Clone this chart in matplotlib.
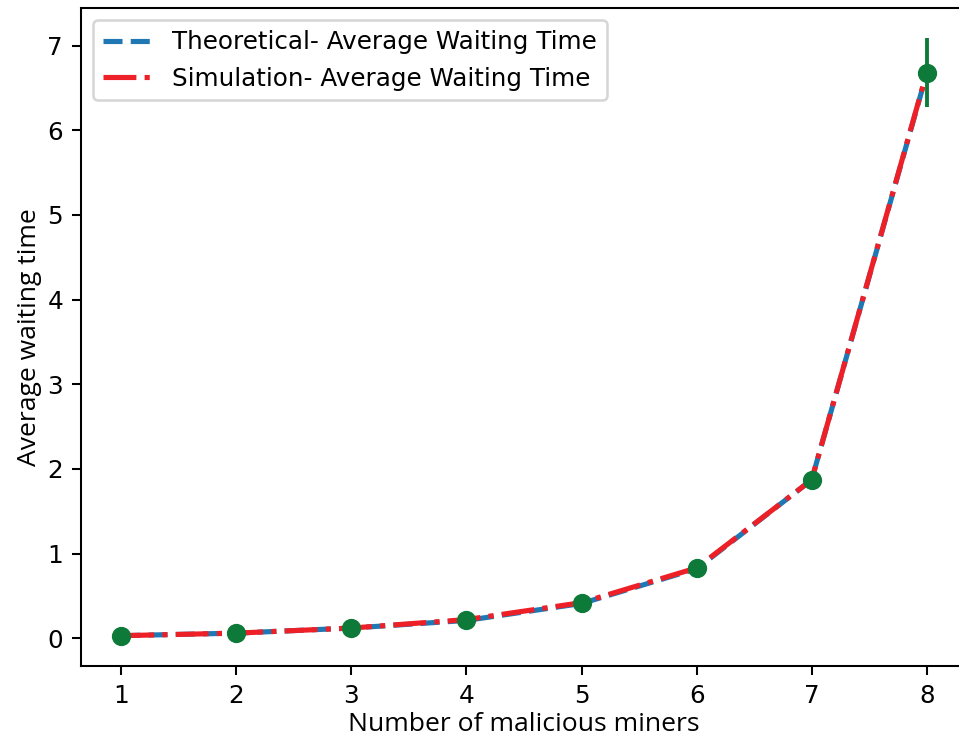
import matplotlib
matplotlib.use("Agg")
import matplotlib.pyplot as plt

miners = [1, 2, 3, 4, 5, 6, 7, 8]
theoretical = [0.03, 0.06, 0.12, 0.21, 0.41, 0.82, 1.87, 6.67]
simulation = [0.03, 0.06, 0.12, 0.22, 0.42, 0.83, 1.87, 6.68]
sim_err = [0.005, 0.01, 0.01, 0.02, 0.03, 0.05, 0.08, 0.41]

DPI = 185
fig = plt.figure(figsize=(959 / DPI, 744 / DPI), dpi=DPI)
ax = fig.add_axes([81 / 959, 78 / 744, (967 - 81) / 959, (666 - 8) / 744])

ax.plot(miners, theoretical, linestyle="--", color="#1f77b4", lw=2.0,
        label="Theoretical- Average Waiting Time", zorder=2)
ax.plot(miners, simulation, linestyle="-.", color="#ee2027", lw=2.0,
        label="Simulation- Average Waiting Time", zorder=3)
ax.errorbar(miners, simulation, yerr=sim_err, fmt="o", color="#0e7a3a",
            ms=6.5, elinewidth=1.5, zorder=4)

ax.set_xticks(miners)
ax.set_yticks(range(0, 8))
ax.tick_params(labelsize=9.6)
ax.set_xlabel("Number of malicious miners", fontfamily="Open Sans", fontsize=10.3, labelpad=1.5)
ax.set_ylabel("Average waiting time", fontfamily="Open Sans", fontsize=10.3, labelpad=2)
ax.legend(loc="upper left", fontsize=9.6)

fig.savefig("out.png", dpi=DPI)
